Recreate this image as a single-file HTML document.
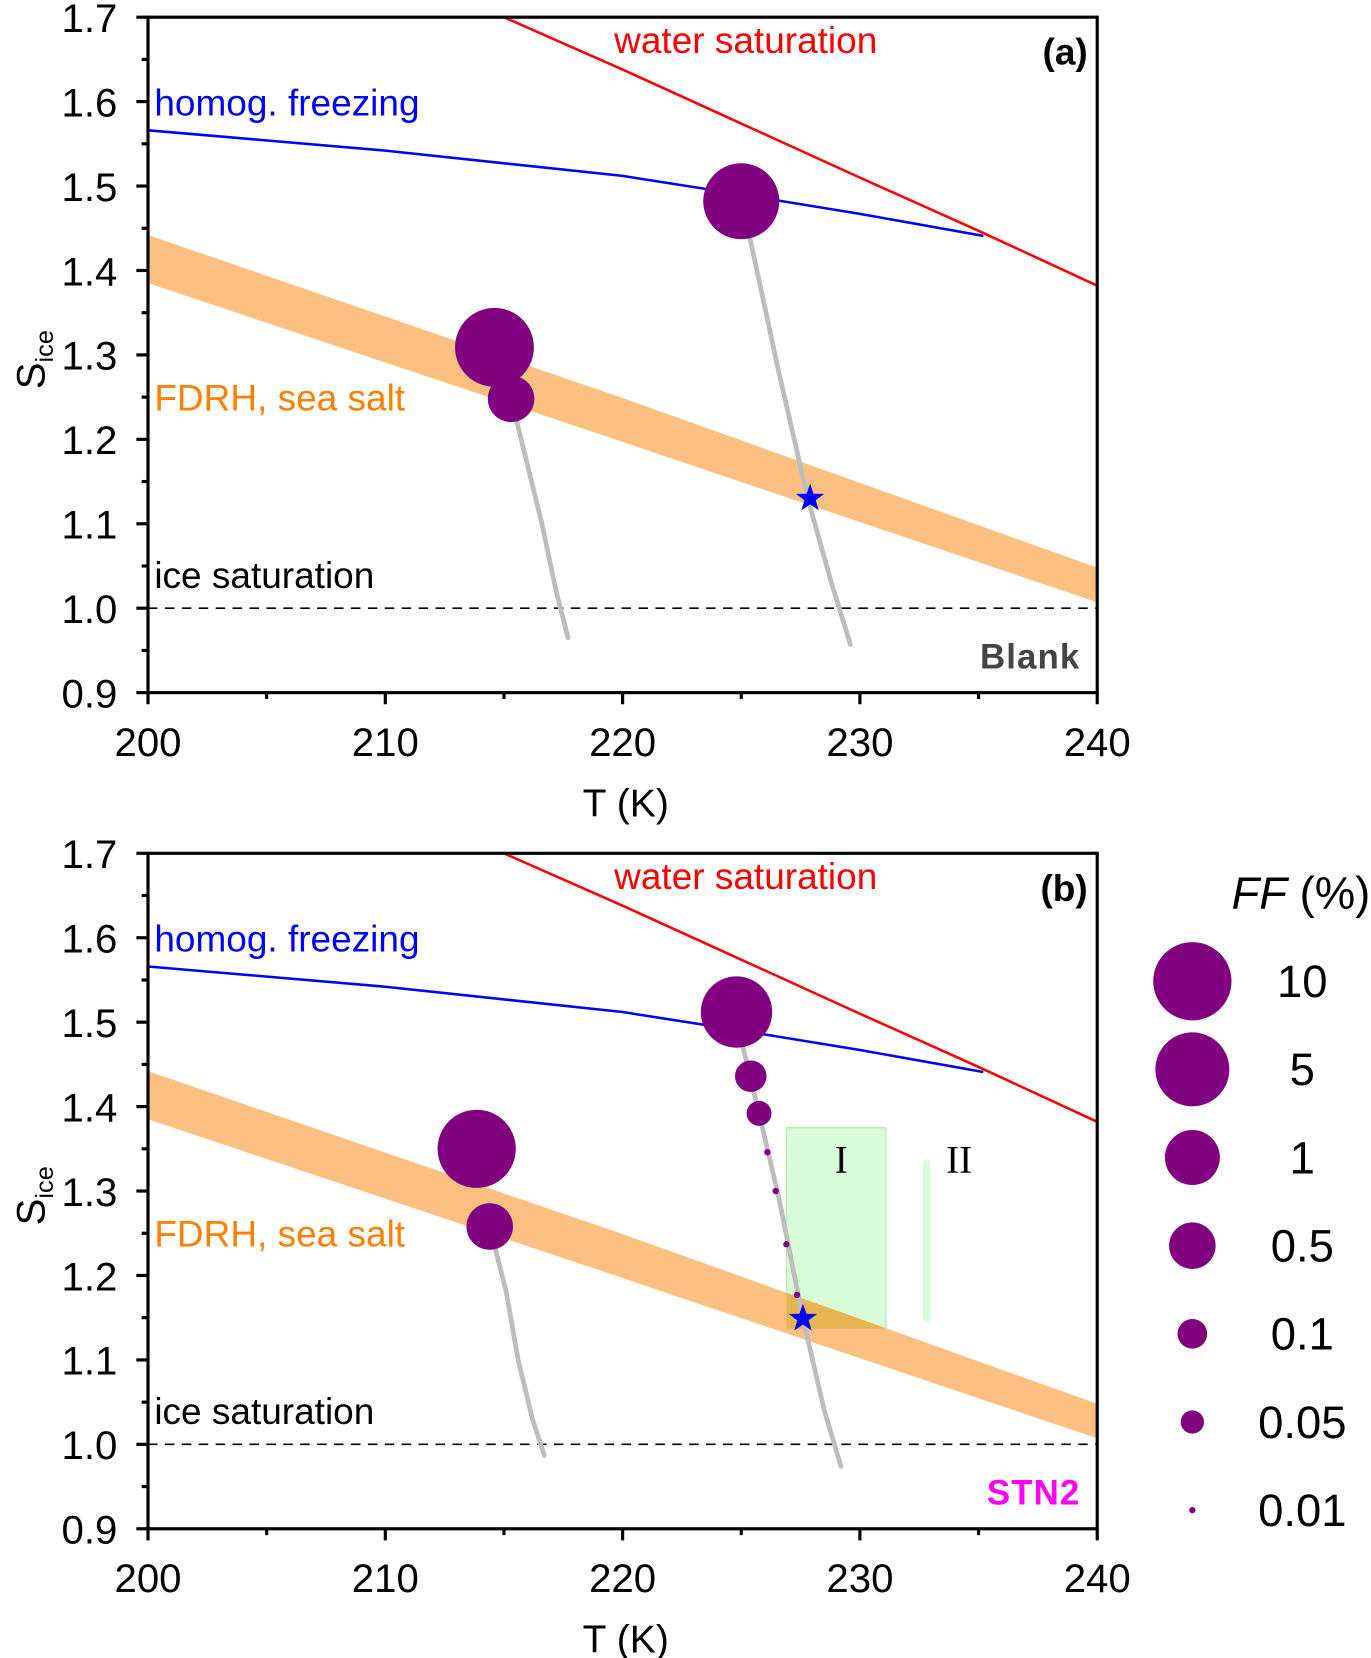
<!DOCTYPE html>
<html><head><meta charset="utf-8"><style>
html,body{margin:0;padding:0;background:#fff;}
svg{display:block;font-family:"Liberation Sans",Arial,sans-serif;}
</style></head><body>
<svg id="chart" width="1371" height="1658" viewBox="0 0 1297 1568" xmlns="http://www.w3.org/2000/svg"></svg>
<script>
// ---- data ----
const waterT = [215, 220, 225, 230, 235, 240];
const waterS = [1.70, 1.638, 1.574, 1.51, 1.447, 1.382];
const homogT = [200, 210, 220, 225, 230, 235.2];
const homogS = [1.566, 1.542, 1.512, 1.490, 1.467, 1.441];
const fdrhT = [200, 220, 240];
const fdrhUpper = [1.442, 1.249, 1.048];
const fdrhLower = [1.385, 1.197, 1.007];
const xTicks = [200, 210, 220, 230, 240];
const yTicks = [0.9, 1.0, 1.1, 1.2, 1.3, 1.4, 1.5, 1.6, 1.7];
const yTickLabels = ["0.9","1.0","1.1","1.2","1.3","1.4","1.5","1.6","1.7"];
// panel a trajectories
const aTraj1T = [215.3, 215.9, 216.6, 217.2, 217.7];
const aTraj1S = [1.248, 1.18, 1.10, 1.02, 0.965];
const aTraj2T = [225.2, 226.5, 227.8, 228.8, 229.6];
const aTraj2S = [1.46, 1.29, 1.13, 1.03, 0.957];
const aBubT = [214.6, 215.3, 225.0];
const aBubS = [1.309, 1.248, 1.482];
const aBubFF = [12, 0.5, 7];
const aStar = [227.9, 1.13];
// panel b trajectories
const bTraj1T = [214.4, 215.1, 215.6, 216.2, 216.7];
const bTraj1S = [1.258, 1.18, 1.10, 1.03, 0.987];
const bTraj2T = [224.9, 225.75, 226.6, 227.6, 228.5, 229.2];
const bTraj2S = [1.49, 1.392, 1.29, 1.149, 1.04, 0.974];
const bBubT = [213.85, 214.4, 224.8, 225.4, 225.75, 226.1, 226.45, 226.9, 227.35];
const bBubS = [1.350, 1.258, 1.512, 1.436, 1.392, 1.346, 1.300, 1.237, 1.177];
const bBubFF = [10, 0.5, 4, 0.12, 0.06, 0.01, 0.01, 0.01, 0.01];
const bStar = [227.6, 1.149];
const regionI = [226.9, 231.1, 1.137, 1.375];
const regionII = [232.8, 1.149, 1.333];
// legend
const legendFF = [10, 5, 1, 0.5, 0.1, 0.05, 0.01];
const legendLabels = ["10", "5", "1", "0.5", "0.1", "0.05", "0.01"];
const legendR = [37, 35, 26, 22, 14, 11, 3];

const NS = "http://www.w3.org/2000/svg";
const svg = document.getElementById('chart');
function el(tag, attrs, parent, text) {
  const e = document.createElementNS(NS, tag);
  for (const k in attrs) e.setAttribute(k, attrs[k]);
  if (text !== undefined) e.textContent = text;
  (parent || svg).appendChild(e);
  return e;
}
function rOf(ff) {
  const lf = Math.log10(ff);
  const lx = legendFF.map(v => Math.log10(v));
  if (lf >= lx[0]) return legendR[0] + (lf - lx[0]) * 4;
  for (let i = 0; i < lx.length - 1; i++) {
    if (lf <= lx[i] && lf >= lx[i + 1]) {
      const t = (lf - lx[i + 1]) / (lx[i] - lx[i + 1]);
      return legendR[i + 1] + t * (legendR[i] - legendR[i + 1]);
    }
  }
  return legendR[legendR.length - 1];
}
function starPath(cx, cy, R) {
  let d = "";
  for (let i = 0; i < 10; i++) {
    const a = -Math.PI / 2 + i * Math.PI / 5;
    const r = i % 2 ? R * 0.4 : R;
    d += (i ? "L" : "M") + (cx + r * Math.cos(a)).toFixed(1) + "," + (cy + r * Math.sin(a)).toFixed(1);
  }
  return d + "Z";
}

function panel(cfg) {
  const x0 = 140, x1 = 1038, top = cfg.top, bot = cfg.top + 639;
  const X = t => x0 + (t - 200) / 40 * (x1 - x0);
  const Y = s => bot - (s - 0.9) / 0.8 * (bot - top);
  const g = el('g', {});
  
  
  const cid = 'clip-' + cfg.name;
  const defs = el('defs', {}, g);
  const cp = el('clipPath', {id: cid}, defs);
  el('rect', {x: x0, y: top, width: x1 - x0, height: bot - top}, cp);
  const pg = el('g', {'clip-path': 'url(#' + cid + ')'}, g);

  let rI = null;
  if (cfg.regions) {
    rI = el('rect', {x: X(regionI[0]), y: Y(regionI[3]), width: X(regionI[1]) - X(regionI[0]), height: Y(regionI[2]) - Y(regionI[3]), fill: '#d8fcd8', stroke: '#a8eca8', 'stroke-width': 1}, pg);
    
    
  }
  let bd = fdrhT.map((t, i) => (i ? 'L' : 'M') + X(t) + ',' + Y(fdrhUpper[i])).join('');
  for (let i = fdrhT.length - 1; i >= 0; i--) bd += 'L' + X(fdrhT[i]) + ',' + Y(fdrhLower[i]);
  bd += 'Z';
  const band = el('path', {d: bd, fill: '#fdc080'}, pg);
  
  
  if (cfg.regions) {
    const oc = el('clipPath', {id: cid + '-ri'}, defs);
    el('rect', {x: X(regionI[0]), y: Y(regionI[3]), width: X(regionI[1]) - X(regionI[0]), height: Y(regionI[2]) - Y(regionI[3])}, oc);
    el('path', {d: bd, fill: '#e6b450', 'clip-path': 'url(#' + cid + '-ri)'}, pg);
    const r2 = el('line', {x1: X(regionII[0]), x2: X(regionII[0]), y1: Y(regionII[2]), y2: Y(regionII[1]), stroke: '#d8fcd8', 'stroke-width': 7, 'stroke-linecap': 'round'}, pg);
    
    
    el('text', {x: X(regionI[0]) + 52, y: 1109, 'font-family': '"Liberation Serif",serif', 'font-size': 37, 'text-anchor': 'middle'}, pg, 'I');
    el('text', {x: X(regionII[0]) + 31, y: 1109, 'font-family': '"Liberation Serif",serif', 'font-size': 37, 'text-anchor': 'middle'}, pg, 'II');
  }
  const ice = el('line', {x1: x0, x2: x1, y1: Y(1.0), y2: Y(1.0), stroke: '#000', 'stroke-width': 1.6, 'stroke-dasharray': '9,7'}, pg);
  
  
  const wl = el('polyline', {points: waterT.map((t, i) => X(t) + ',' + Y(waterS[i])).join(' '), fill: 'none', stroke: '#ff0000', 'stroke-width': 2.4}, pg);
  
  
  const hl = el('polyline', {points: homogT.map((t, i) => X(t) + ',' + Y(homogS[i])).join(' '), fill: 'none', stroke: '#0000ff', 'stroke-width': 2.4}, pg);
  
  
  cfg.trajs.forEach((tr, k) => {
    const p = el('polyline', {points: tr[0].map((t, i) => X(t) + ',' + Y(tr[1][i])).join(' '), fill: 'none', stroke: '#bdbdbd', 'stroke-width': 4.5, 'stroke-linecap': 'round', 'stroke-linejoin': 'round'}, pg);
    
    
  });
  cfg.bubT.forEach((t, i) => {
    const c = el('circle', {cx: X(t), cy: Y(cfg.bubS[i]), r: rOf(cfg.bubFF[i]), fill: '#800080'}, pg);
    
    
  });
  const st = el('path', {d: starPath(X(cfg.star[0]), Y(cfg.star[1]), 14), fill: '#0000ff'}, pg);
  
  

  const fr = el('rect', {x: x0, y: top, width: x1 - x0, height: bot - top, fill: 'none', stroke: '#000', 'stroke-width': 3}, g);
  
  
  for (let i = 0; i < yTicks.length; i++) {
    const y = Y(yTicks[i]);
    el('line', {x1: x0 - 11, x2: x0, y1: y, y2: y, stroke: '#000', 'stroke-width': 3}, g);
    if (i < yTicks.length - 1) {
      const ym = Y(yTicks[i] + 0.05);
      el('line', {x1: x0 - 6, x2: x0, y1: ym, y2: ym, stroke: '#000', 'stroke-width': 3}, g);
    }
    const tl = el('text', {x: 111, y: y + 14, 'font-size': 38, 'text-anchor': 'end'}, g, yTickLabels[i]);
    
    
  }
  for (let i = 0; i < xTicks.length; i++) {
    const x = X(xTicks[i]);
    el('line', {x1: x, x2: x, y1: bot, y2: bot + 11, stroke: '#000', 'stroke-width': 3}, g);
    if (i < xTicks.length - 1) {
      const xm = X(xTicks[i] + 5);
      el('line', {x1: xm, x2: xm, y1: bot, y2: bot + 6, stroke: '#000', 'stroke-width': 3}, g);
    }
    const tl = el('text', {x: x, y: bot + 60, 'font-size': 38, 'text-anchor': 'middle'}, g, String(xTicks[i]));
    
    
  }
  const xt = el('text', {x: 592, y: bot + 117, 'font-size': 37, 'text-anchor': 'middle'}, g, 'T (K)');
  
  
  const ycy = top + 320;
  const yt = el('text', {x: 0, y: 0, 'font-size': 38, transform: 'translate(42,' + (ycy + 32) + ') rotate(-90)'}, g);
  
  
  el('tspan', {}, yt, 'S');
  el('tspan', {'font-size': 24, dy: 8}, yt, 'ice');

  const lab = (txt, x, y, fill, name, extra, fs) => {
    const t = el('text', Object.assign({x: x, y: y, 'font-size': fs || 35, fill: fill}, extra || {}), g, txt);
    
    
  };
  lab('water saturation', 581, top + 34, '#ff0000', 'water-saturation-label');
  lab('homog. freezing', 146, top + 93, '#0000ff', 'homog-freezing-label');
  lab('FDRH, sea salt', 146, top + 372, '#ff8000', 'fdrh-label');
  lab('ice saturation', 146, top + 540, '#000', 'ice-saturation-label');
  lab(cfg.letter, 1029, top + 45, '#000', 'panel-letter', {'font-weight': 'bold', 'text-anchor': 'end'}, 35);
  lab(cfg.sample, 1022, top + 616, cfg.sampleColor, 'sample-label', {'font-weight': 'bold', 'text-anchor': 'end', 'letter-spacing': '1'}, 33);
}

panel({name: 'panel-a', top: 16, letter: '(a)', sample: 'Blank', sampleColor: '#444',
  trajs: [[aTraj1T, aTraj1S], [aTraj2T, aTraj2S]], bubT: aBubT, bubS: aBubS, bubFF: aBubFF, star: aStar, regions: false});
panel({name: 'panel-b', top: 807, letter: '(b)', sample: 'STN2', sampleColor: '#ff00ff',
  trajs: [[bTraj1T, bTraj1S], [bTraj2T, bTraj2S]], bubT: bBubT, bubS: bBubS, bubFF: bBubFF, star: bStar, regions: true});

const lg = el('g', {});


const lt = el('text', {x: 1165, y: 859, 'font-size': 43}, lg);
el('tspan', {'font-style': 'italic'}, lt, 'FF');
el('tspan', {}, lt, ' (%)');
legendFF.forEach((ff, i) => {
  const cy = 928 + i * 83.4;
  const c = el('circle', {cx: 1128, cy: cy, r: legendR[i], fill: '#800080'}, lg);
  
  
  el('text', {x: 1232, y: cy + 15, 'font-size': 43, 'text-anchor': 'middle'}, lg, legendLabels[i]);
});
</script>
</body></html>
